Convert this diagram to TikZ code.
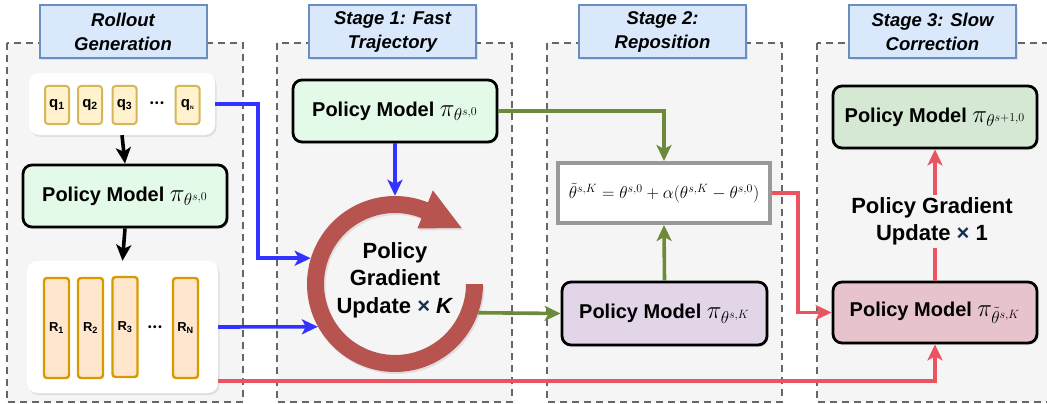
\documentclass[tikz,border=0pt]{standalone}
\usepackage{fontspec}
\setmainfont{Liberation Sans}
\usetikzlibrary{arrows.meta,shadows}

\definecolor{panelbg}{RGB}{245,245,245}
\definecolor{paneldash}{RGB}{102,102,102}
\definecolor{titlefill}{RGB}{218,232,252}
\definecolor{titledraw}{RGB}{108,142,191}
\definecolor{qfill}{RGB}{255,242,204}
\definecolor{qdraw}{RGB}{214,182,86}
\definecolor{rfill}{RGB}{255,230,204}
\definecolor{rdraw}{RGB}{215,155,0}
\definecolor{mintfill}{RGB}{228,250,232}
\definecolor{greenfill}{RGB}{213,232,212}
\definecolor{purplefill}{RGB}{225,213,231}
\definecolor{pinkfill}{RGB}{231,196,203}
\definecolor{arrblue}{RGB}{51,51,255}
\definecolor{arrgreen}{RGB}{109,138,58}
\definecolor{arrred}{RGB}{234,84,96}
\definecolor{cycred}{RGB}{184,84,80}
\definecolor{navy}{RGB}{22,48,78}

\tikzset{
  panel/.style={fill=panelbg, draw=paneldash, line width=1.8pt, dash pattern=on 7pt off 5pt},
  softshadow/.style={drop shadow={shadow xshift=1.5pt, shadow yshift=-2pt, opacity=0.18}},
  title/.style={fill=titlefill, draw=titledraw, line width=2pt, minimum width=167pt, minimum height=53pt,
    align=center, font=\fontsize{18.5}{24}\selectfont\bfseries\itshape, softshadow},
  model/.style={draw=black, line width=2.8pt, rounded corners=9pt, minimum width=204pt, minimum height=62pt,
    font=\fontsize{20}{24}\selectfont\bfseries, softshadow},
  group/.style={fill=white, rounded corners=10pt, softshadow},
  qitem/.style={fill=qfill, draw=qdraw, line width=2pt, rounded corners=3pt, minimum width=24pt, minimum height=38pt,
    inner sep=0pt, font=\fontsize{15}{15}\selectfont\bfseries},
  ritem/.style={fill=rfill, draw=rdraw, line width=2.4pt, rounded corners=3pt, minimum width=25pt, minimum height=100pt,
    inner sep=0pt, font=\fontsize{13}{13}\selectfont\bfseries},
  dots/.style={font=\fontsize{10}{10}\selectfont\bfseries, inner sep=0pt},
  flow/.style={line width=3.6pt, -{Stealth[length=16pt,width=15pt,inset=4pt]}},
  bigtext/.style={align=center, font=\fontsize{22}{27.5}\selectfont\bfseries},
}
\newcommand{\pimodel}[1]{{\fontsize{25}{25}\selectfont$\pi_{#1}$}}

\begin{document}
\begin{tikzpicture}[x=1pt, y=-1pt]
    \useasboundingbox (0,0) rectangle (1047,404);

    % 背景の枠
    \draw[panel] (7,43) rectangle (243,402);
    \draw[panel] (277,43) rectangle (512,402);
    \draw[panel] (547,43) rectangle (782,402);
    \draw[panel] (817,43) rectangle (1060,402);

    % 見出し
    \node[title] (t0) at (123,31.5) {Rollout\\Generation};
    \node[title] (t1) at (392.5,31.5) {Stage 1: Fast\\Trajectory};
    \node[title] (t2) at (662.5,31.5) {Stage 2:\\Reposition};
    \node[title] (t3) at (932.5,31.5) {Stage 3: Slow\\Correction};

    % 質問
    \node[group, minimum width=186pt, minimum height=62pt] (qbox) at (122,104) {};
    \node[qitem] (q1) at (57,105) {q\textsubscript{1}};
    \node[qitem] (q2) at (90,105) {q\textsubscript{2}};
    \node[qitem] (q3) at (124.5,105) {q\textsubscript{3}};
    \node[dots] (qdots) at (157,104) {•\,•\,•};
    \node[qitem] (qN) at (187.5,105) {q\textsubscript{\tiny N}};

    % 応答
    \node[group, minimum width=191pt, minimum height=132pt] (rbox) at (122.5,327) {};
    \node[ritem] (r1) at (56.5,328) {R\textsubscript{1}};
    \node[ritem] (r2) at (90.5,328) {R\textsubscript{2}};
    \node[ritem] (r3) at (125,327) {R\textsubscript{3}};
    \node[dots] (rdots) at (155,328) {•\,•\,•};
    \node[ritem] (rN) at (185.5,328) {R\textsubscript{N}};

    % モデル
    \node[model, fill=mintfill] (model0) at (125,196) {Policy Model \pimodel{\theta^{s,0}}};
    \node[model, fill=mintfill] (model1) at (395,111) {Policy Model \pimodel{\theta^{s,0}}};
    \node[model, fill=purplefill, minimum width=205pt, minimum height=63pt] (modelK) at (664.5,313.5) {Policy Model \pimodel{\theta^{s,K}}};
    \node[model, fill=pinkfill, minimum height=61pt] (modelT) at (935,312.5) {Policy Model \pimodel{\tilde{\theta}^{s,K}}};
    \node[model, fill=greenfill] (modelNext) at (935,117) {Policy Model \pimodel{\theta^{s+1,0}}};
    \node[draw=black!40, line width=4pt, fill=white, minimum width=212pt, minimum height=60pt,
      font=\fontsize{16.5}{16.5}\selectfont, softshadow] (repos) at (664,193)
      {$\tilde{\theta}^{s,K}=\theta^{s,0}+\alpha(\theta^{s,K}-\theta^{s,0})$};

    % 循環矢印
    \node[circle, minimum size=176pt, inner sep=0pt] (cyc) at (395,284) {};
    \begin{scope}[shift={(395,284)}]
      \fill[cycred, softshadow] (0:88pt) arc[start angle=0, end angle=-292, radius=88pt]
        -- (68:101pt) -- (40:87pt) -- (68:60pt) -- (68:71pt)
        arc[start angle=-292, end angle=0, radius=71pt] -- cycle;
    \end{scope}
    \node[bigtext] (cyctext) at (395,280) {Policy\\Gradient\\Update {\color{navy}×} \textit{K}};

    % エッジ
    \coordinate (qturn) at (258,0);
    \coordinate (rturn) at (798,0);
    \draw[flow] (qbox.south) -- (model0.north);
    \draw[flow] (model0.south) -- (rbox.north);
    \draw[flow, arrblue] (qbox.east) -| (qturn |- cyc.163) -- (cyc.163);
    \draw[flow, arrblue] (rbox.east) -- (cyc.209);
    \draw[flow, arrblue] (model1.south) -- (cyc.north);
    \draw[flow, arrgreen] (model1.east) -| (repos.north);
    \draw[flow, arrgreen] (cyc.341) -- (modelK.west);
    \draw[flow, arrgreen] (modelK.north) -- (repos.south);
    \draw[flow, arrred] (repos.east) -| (rturn |- modelT.west) -- (modelT.west);
    \draw[flow, arrred] ([yshift=-54pt]rbox.east) -| (modelT.south);
    \draw[flow, arrred] (modelT.north) -- (modelNext.south);
    \node[bigtext, fill=panelbg, inner sep=2pt] (pglabel) at (932,221.5) {Policy Gradient\\Update {\color{navy}×} 1};
  \end{tikzpicture}
\end{document}
